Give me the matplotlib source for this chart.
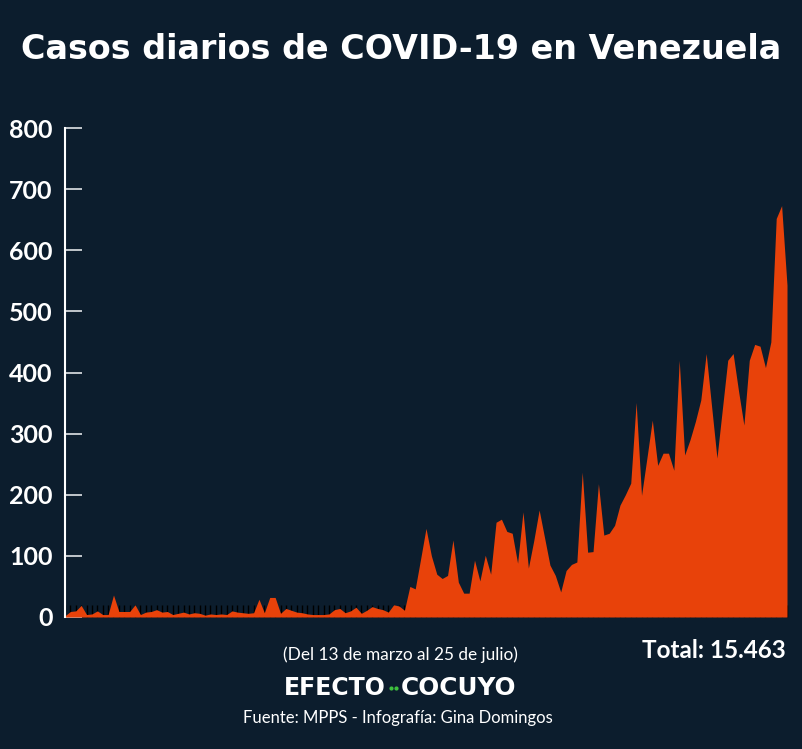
import matplotlib.pyplot as plt
from matplotlib.lines import Line2D

# Daily cases from 13 March to 25 July 2020
cases = [
    2, 9, 10, 19, 4, 5, 10, 4, 4, 36,
    9, 9, 9, 20, 4, 8, 9, 12, 8, 9,
    4, 6, 8, 5, 7, 6, 3, 5, 4, 5,
    4, 10, 8, 7, 6, 7, 29, 7, 32, 32,
    6, 14, 11, 8, 7, 5, 4, 4, 4, 5,
    12, 14, 7, 10, 16, 6, 11, 17, 14, 12,
    8, 20, 18, 11, 50, 46, 95, 145, 100, 70,
    63, 68, 126, 57, 39, 39, 93, 59, 101, 70,
    155, 160, 140, 137, 88, 172, 80, 125, 175, 130,
    85, 68, 41, 76, 86, 90, 237, 106, 107, 218,
    134, 137, 150, 183, 200, 219, 351, 199, 260, 322,
    248, 268, 268, 240, 420, 265, 290, 320, 355, 431,
    345, 260, 340, 420, 431, 370, 314, 420, 446, 443,
    408, 450, 652, 673, 543,
]
days = list(range(len(cases)))
y_ticks = [0, 100, 200, 300, 400, 500, 600, 700, 800]

title = 'Casos diarios de COVID-19 en Venezuela'
subtitle = '(Del 13 de marzo al 25 de julio)'
total_text = 'Total: 15.463'
source = 'Fuente: MPPS - Infografía: Gina Domingos'

bg = '#0c1d2d'
orange = '#e8420a'
green = '#3ec13e'

W, H = 802, 749
fig = plt.figure(figsize=(W / 100, H / 100), dpi=100, facecolor=bg)
ax = fig.add_axes([65 / W, 132 / H, 722 / W, 489 / H])
ax.set_facecolor(bg)

ax.fill_between(days, cases, 0, color=orange, linewidth=0, zorder=1)

ax.set_xlim(0, len(cases) - 1)
ax.set_ylim(0, 800)
ax.set_axisbelow(True)

for side in ['top', 'right', 'bottom']:
    ax.spines[side].set_visible(False)
ax.spines['left'].set_color('white')
ax.spines['left'].set_linewidth(1.5)

ax.set_yticks(y_ticks)
ax.tick_params(axis='y', direction='in', length=12, width=1.3, color='#d0d4d8',
               pad=9, labelsize=18, labelcolor='white')
for lbl in ax.get_yticklabels():
    lbl.set_fontfamily('Lato')
    lbl.set_fontweight('bold')

ax.set_xticks(days)
ax.tick_params(axis='x', direction='in', length=9, width=1, color='black',
               labelbottom=False)


def px(x, y):
    return x / W, 1 - y / H


def fit(txt, width):
    # scale font so the text spans the width seen in the reference
    r = fig.canvas.get_renderer()
    w = txt.get_window_extent(r).width
    txt.set_fontsize(txt.get_fontsize() * width / w)


t = fig.text(*px(401, 59), title, ha='center', va='baseline', color='white',
             fontsize=24, fontweight='bold', family='DejaVu Sans')
fit(t, 762)

t = fig.text(*px(400, 660), subtitle, ha='center', va='baseline',
             color='white', fontsize=12, family='Lato')
fit(t, 235)

t = fig.text(*px(786, 658), total_text, ha='right', va='baseline',
             color='white', fontsize=20, fontweight='bold', family='Lato')
fit(t, 144)

# logo: EFECTO .. COCUYO
t = fig.text(*px(386, 695), 'EFECTO', ha='right', va='baseline',
             color='white', fontsize=16, fontweight='bold', family='DejaVu Sans')
fit(t, 102)
t = fig.text(*px(401, 695), 'COCUYO', ha='left', va='baseline',
             color='white', fontsize=16, fontweight='bold', family='DejaVu Sans')
fit(t, 116)
fig.add_artist(Line2D([390.5 / W, 396 / W], [1 - 688 / H] * 2,
                      transform=fig.transFigure, linestyle='none',
                      marker='o', markersize=2.0, color=green))

t = fig.text(*px(398, 723), source, ha='center', va='baseline',
             color='white', fontsize=12, family='Lato')
fit(t, 310)

fig.savefig('out.png', dpi=100, facecolor=bg)
